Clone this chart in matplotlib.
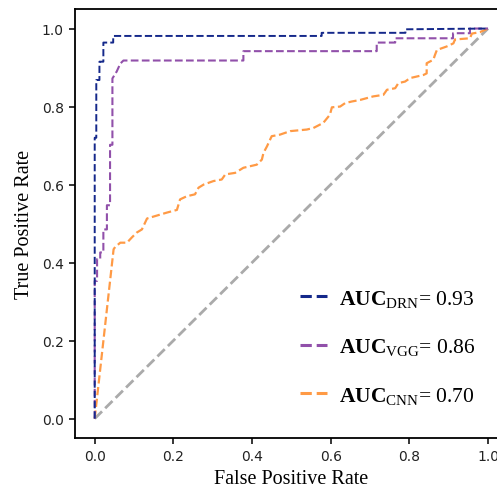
import matplotlib
matplotlib.use('Agg')
import matplotlib.pyplot as plt
from matplotlib.lines import Line2D

# ROC points
drn_fpr = [0, 0, 0.004, 0.004, 0.012, 0.012, 0.022, 0.022, 0.047, 0.047, 0.577, 0.577, 0.79, 0.79, 1.0]
drn_tpr = [0, 0.72, 0.72, 0.868, 0.868, 0.915, 0.915, 0.964, 0.964, 0.981, 0.981, 0.989, 0.989, 0.998, 1.0]

vgg_fpr = [0, 0, 0.006, 0.006, 0.014, 0.014, 0.022, 0.022, 0.031, 0.031, 0.039, 0.039, 0.045, 0.045,
           0.056, 0.065, 0.073, 0.378, 0.378, 0.717, 0.717, 0.764, 0.764, 0.911, 0.911, 0.954, 0.954, 1.0]
vgg_tpr = [0, 0.353, 0.353, 0.409, 0.409, 0.426, 0.426, 0.485, 0.485, 0.547, 0.547, 0.702, 0.702, 0.872,
           0.89, 0.91, 0.918, 0.918, 0.942, 0.942, 0.964, 0.964, 0.975, 0.975, 0.988, 0.988, 1.0, 1.0]

cnn_fpr = [0, 0.048, 0.052, 0.065, 0.082, 0.094, 0.107, 0.12, 0.133, 0.183, 0.209, 0.217, 0.234, 0.255,
           0.264, 0.277, 0.302, 0.323, 0.332, 0.357, 0.378, 0.412, 0.425, 0.429, 0.438, 0.45, 0.471,
           0.497, 0.539, 0.556, 0.581, 0.598, 0.603, 0.624, 0.637, 0.654, 0.675, 0.708, 0.734, 0.743,
           0.764, 0.772, 0.789, 0.802, 0.836, 0.844, 0.844, 0.861, 0.865, 0.87, 0.895, 0.912, 0.916,
           0.954, 0.959, 0.98, 1.0]
cnn_tpr = [0, 0.434, 0.44, 0.451, 0.451, 0.464, 0.477, 0.485, 0.513, 0.528, 0.535, 0.562, 0.57, 0.575,
           0.592, 0.6, 0.609, 0.613, 0.626, 0.63, 0.643, 0.651, 0.664, 0.681, 0.698, 0.724, 0.728,
           0.737, 0.741, 0.745, 0.758, 0.779, 0.798, 0.8, 0.809, 0.813, 0.817, 0.826, 0.83, 0.843,
           0.847, 0.86, 0.864, 0.873, 0.881, 0.885, 0.911, 0.92, 0.932, 0.945, 0.954, 0.962, 0.972,
           0.975, 0.987, 0.991, 1.0]

models = ['DRN', 'VGG', 'CNN']
aucs = [0.93, 0.86, 0.70]
colors = ['#14288a', '#9150aa', '#ff9a45']

plt.rcParams['mathtext.fontset'] = 'custom'
plt.rcParams['mathtext.rm'] = 'Liberation Serif'
plt.rcParams['mathtext.bf'] = 'Liberation Serif:bold'

fig = plt.figure(figsize=(4.97, 4.89), dpi=100)
ax = fig.add_axes([0.151, 0.102, 0.8705, 0.8775])

ax.plot([0, 1], [0, 1], color='#aaaaaa', linestyle='--', lw=2, zorder=1)
ax.plot(cnn_fpr, cnn_tpr, color=colors[2], linestyle='--', lw=1.6, zorder=2)
ax.plot(vgg_fpr, vgg_tpr, color=colors[1], linestyle='--', lw=1.5, zorder=3)
ax.plot(drn_fpr, drn_tpr, color=colors[0], linestyle='--', lw=1.4, zorder=4)

ax.set_xlim(-0.05, 1.05)
ax.set_ylim(-0.05, 1.05)
ax.set_xticks([0, 0.2, 0.4, 0.6, 0.8, 1.0])
ax.set_yticks([0, 0.2, 0.4, 0.6, 0.8, 1.0])
ax.tick_params(labelsize=10, labelcolor='#222222', length=4.5, width=1.1)
for s in ax.spines.values():
    s.set_linewidth(1.3)

ax.set_xlabel('False Positive Rate', family='Liberation Serif', fontsize=14.5, labelpad=4)
ax.set_ylabel('True Positive Rate', family='Liberation Serif', fontsize=14.5, labelpad=6)

handles = [Line2D([0], [0], color=c, linestyle='--', lw=2.2) for c in colors]
labels = [r'$\mathbf{AUC}_{\mathrm{%s}}$= %.2f' % (m, a) for m, a in zip(models, aucs)]
ax.legend(handles, labels, loc='upper left', bbox_to_anchor=(0.5, 0.37), frameon=False,
          prop={'family': 'Liberation Serif', 'size': 15.5}, handlelength=1.25,
          handletextpad=0.55, labelspacing=1.25, borderaxespad=0)

fig.savefig('out.png', dpi=100)
